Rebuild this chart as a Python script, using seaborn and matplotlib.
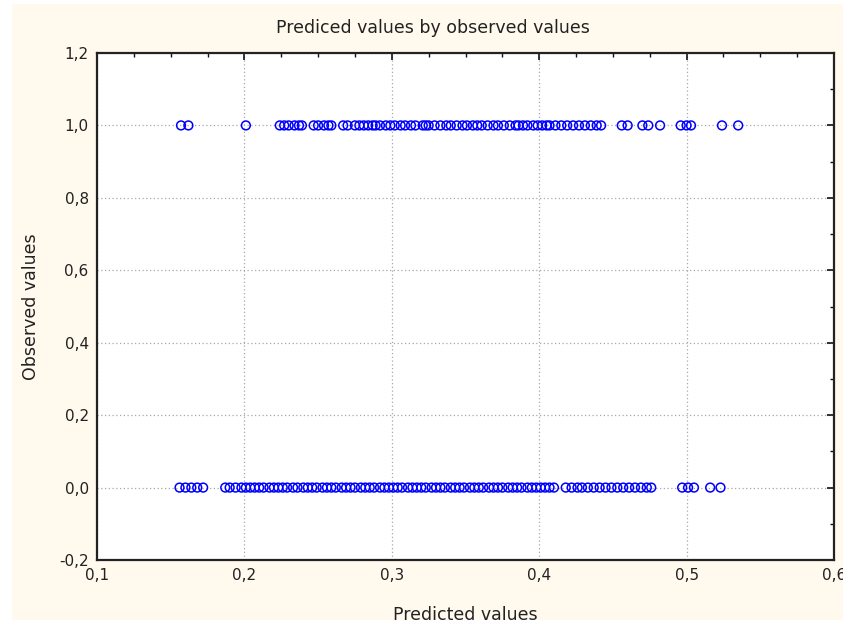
import matplotlib
matplotlib.use("Agg")
import matplotlib.pyplot as plt
from matplotlib.patches import Rectangle
from matplotlib.ticker import MultipleLocator, FuncFormatter
import numpy as np
import pandas as pd
import seaborn as sns

# Predicted probabilities for cases observed as 1
pred_obs1 = [
    0.157, 0.162, 0.201,
    0.224, 0.227, 0.230, 0.234, 0.237, 0.239,
    0.247, 0.250, 0.254, 0.257, 0.259,
    0.267, 0.270, 0.275, 0.278, 0.281, 0.284, 0.287, 0.289,
    0.292, 0.296, 0.299, 0.302, 0.306, 0.309, 0.313, 0.316, 0.321, 0.323,
    0.325, 0.329, 0.333, 0.337, 0.340, 0.344, 0.348, 0.351, 0.355, 0.358,
    0.361, 0.365, 0.369, 0.372, 0.376, 0.380, 0.384, 0.386, 0.389, 0.392,
    0.396, 0.399, 0.402, 0.405, 0.407, 0.411, 0.415, 0.419, 0.423, 0.427,
    0.431, 0.435, 0.439, 0.442,
    0.456, 0.460, 0.470, 0.474, 0.482, 0.496, 0.500, 0.503, 0.524, 0.535,
]

# Predicted probabilities for cases observed as 0
pred_obs0 = [
    0.156, 0.160, 0.164, 0.168, 0.172,
    0.187, 0.190, 0.194, 0.198, 0.201,
    0.204, 0.207, 0.210, 0.213, 0.217, 0.220, 0.223, 0.226, 0.229, 0.233,
    0.236, 0.240, 0.243, 0.246, 0.249, 0.253, 0.256, 0.259, 0.262, 0.266,
    0.269, 0.272, 0.275, 0.279, 0.282, 0.285, 0.288, 0.292, 0.295, 0.298,
    0.301, 0.304, 0.307, 0.311, 0.314, 0.317, 0.320, 0.323, 0.327, 0.330,
    0.333, 0.336, 0.340, 0.343, 0.346, 0.349, 0.353, 0.356, 0.359, 0.362,
    0.366, 0.369, 0.372, 0.375, 0.379, 0.382, 0.385, 0.388, 0.392, 0.395,
    0.398, 0.401, 0.404, 0.407, 0.410,
    0.418, 0.422, 0.426, 0.429, 0.433, 0.437, 0.441, 0.445, 0.449, 0.453,
    0.457, 0.461, 0.465, 0.469, 0.473, 0.476,
    0.497, 0.501, 0.505, 0.516, 0.523,
]

x_ticks = [0.1, 0.2, 0.3, 0.4, 0.5, 0.6]
y_ticks = [-0.2, 0.0, 0.2, 0.4, 0.6, 0.8, 1.0, 1.2]

df = pd.DataFrame({
    "predicted": pred_obs1 + pred_obs0,
    "observed": [1.0] * len(pred_obs1) + [0.0] * len(pred_obs0),
})

sns.set_style("white")
plt.rcParams["font.family"] = ["DejaVu Sans"]

fig = plt.figure(figsize=(8.43, 6.27), dpi=100)
fig.patch.set_facecolor("white")
# cream panel behind the plot
panel = Rectangle((12 / 843, 1 - 620 / 627), 1 - 12 / 843, (620 - 4) / 627,
                  transform=fig.transFigure, facecolor="#fff9ee",
                  edgecolor="none", zorder=-10)
fig.add_artist(panel)

ax = fig.add_axes([97 / 843, 1 - 560 / 627, (834 - 97) / 843, (560 - 53) / 627])
ax.set_zorder(1)
ax.set_facecolor("white")

sns.scatterplot(data=df, x="predicted", y="observed", ax=ax,
                marker="o", s=40, facecolors="none", edgecolor="#0000ff",
                linewidth=1.1, legend=False, zorder=3)

ax.set_xlim(x_ticks[0], x_ticks[-1])
ax.set_ylim(y_ticks[0], y_ticks[-1])
ax.set_xticks(x_ticks)
ax.set_yticks(y_ticks)
ax.xaxis.set_minor_locator(MultipleLocator(0.025))
ax.yaxis.set_minor_locator(MultipleLocator(0.1))

comma = FuncFormatter(lambda v, _: f"{v:.1f}".replace(".", ",").replace("-0,0", "0,0"))
ax.xaxis.set_major_formatter(comma)
ax.yaxis.set_major_formatter(comma)

ax.grid(True, which="major", linestyle=(0, (1, 2)), color="#a8a8a8", linewidth=0.9)
ax.tick_params(which="both", direction="in", top=True, right=True,
               color="#111111", labelsize=11, labelcolor="#222222")
ax.tick_params(which="major", length=5, width=1.2, pad=6)
ax.tick_params(which="minor", length=3, width=1.0)

for side in ax.spines.values():
    side.set_visible(True)
    side.set_linewidth(1.6)
    side.set_color("#222222")

ax.set_xlabel("Predicted values", fontsize=12.5, color="#222222", labelpad=16)
ax.set_ylabel("Observed values", fontsize=12.5, color="#222222", labelpad=14)
fig.text(433 / 843, 1 - 28 / 627, "Prediced values by observed values",
         ha="center", va="center", fontsize=12.5, color="#222222")

fig.savefig("out.png", dpi=100, facecolor=fig.get_facecolor())
